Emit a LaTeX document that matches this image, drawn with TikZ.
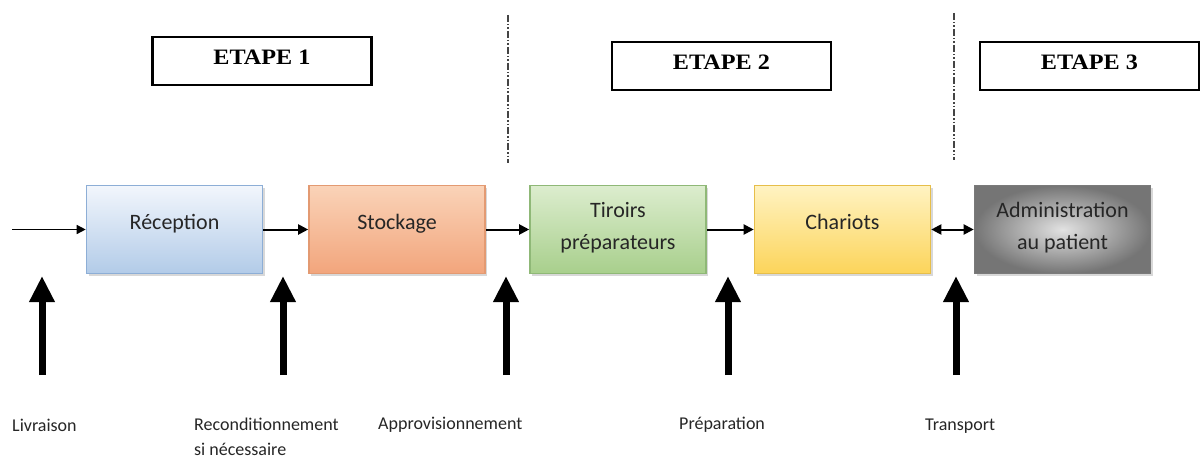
\documentclass[tikz,border=0pt]{standalone}
\usepackage{fontspec}
\setmainfont{Carlito}
\newfontfamily\etapefont[FakeStretch=1.1]{Liberation Serif}
\usetikzlibrary{arrows.meta,shadows}

\definecolor{recTop}{HTML}{F2F6FC}
\definecolor{recBot}{HTML}{B2CBE8}
\definecolor{recLine}{HTML}{8DAED6}
\definecolor{stoTop}{HTML}{FAD3B8}
\definecolor{stoBot}{HTML}{F2A57C}
\definecolor{stoLine}{HTML}{E39A72}
\definecolor{tirTop}{HTML}{DCEDCE}
\definecolor{tirBot}{HTML}{A8CF8C}
\definecolor{tirLine}{HTML}{8FB877}
\definecolor{chaTop}{HTML}{FFF3C2}
\definecolor{chaBot}{HTML}{FCD45A}
\definecolor{chaLine}{HTML}{E6BE4A}
\definecolor{admIn}{HTML}{E2E2E2}
\definecolor{admOut}{HTML}{757575}
\definecolor{admLine}{HTML}{7A7A7A}
\definecolor{divLine}{HTML}{444444}

\begin{document}
\begin{tikzpicture}[x=1pt,y=-1pt,
  procbox/.style={minimum width=176pt, minimum height=88pt, inner sep=0pt,
    line width=1.6pt, align=center, text=black!85,
    font=\fontsize{22}{32}\selectfont,
    drop shadow={shadow xshift=2pt, shadow yshift=-2pt, opacity=0.3}},
  oneline/.style={text height=14pt, text depth=14pt},
  twoline/.style={text height=44pt, text depth=4pt},
  etape/.style={draw, line width=2.5pt, minimum width=219pt, minimum height=48pt,
    inner sep=0pt, text height=17pt, text depth=10pt,
    font=\etapefont\bfseries\fontsize{22}{26}\selectfont},
  flow/.style={line width=2pt, -{Triangle[length=10pt,width=10pt]}},
  inflow/.style={line width=1.4pt, -{Triangle[length=9pt,width=9pt]}},
  bothflow/.style={line width=2pt, {Triangle[length=10pt,width=10pt]}-{Triangle[length=10pt,width=10pt]}},
  bigup/.style={line width=7pt, -{Triangle[length=26pt,width=24pt]}},
  divider/.style={draw=divLine, line width=1.5pt,
    dash pattern=on 7pt off 2pt on 1.5pt off 2pt on 1.5pt off 2pt},
  steplabel/.style={anchor=west, inner sep=0pt, align=left, text=black!85,
    font=\fontsize{18}{25}\selectfont}]

\useasboundingbox (0,0) rectangle (1200,460);
\fill[white] (0,0) rectangle (1200,460);

% stage headers
\node[etape] (e1) at (262,61) {ETAPE 1};
\node[etape] (e2) at (721.5,66) {ETAPE 2};
\node[etape] (e3) at (1089.5,66) {ETAPE 3};

% stage separators
\coordinate (d1a) at (508,15);
\coordinate (d1b) at (508,163);
\coordinate (d2a) at (954,13);
\coordinate (d2b) at (954,160);
\draw[divider] (d1a) -- (d1b);
\draw[divider] (d2a) -- (d2b);

% process boxes
\node[procbox, oneline, draw=recLine, top color=recTop, bottom color=recBot]
  (rec) at (174.5,229.5) {Réception};
\node[procbox, oneline, draw=stoLine, top color=stoTop, bottom color=stoBot]
  (sto) at (397,229.5) {Stockage};
\node[procbox, twoline, draw=tirLine, top color=tirTop, bottom color=tirBot]
  (tir) at (618,229.5) {Tiroirs\\préparateurs};
\node[procbox, oneline, draw=chaLine, top color=chaTop, bottom color=chaBot]
  (cha) at (842.5,229.5) {Chariots};
\node[procbox, twoline, draw=admLine, inner color=admIn, outer color=admOut]
  (adm) at (1062.5,229.5) {Administration\\au patient};

% main flow
\coordinate (in) at (12,229.5);
\draw[inflow] (in) -- (rec.west);
\draw[flow] (rec.east) -- (sto.west);
\draw[flow] (sto.east) -- (tir.west);
\draw[flow] (tir.east) -- (cha.west);
\draw[bothflow] (cha.east) -- (adm.west);

% operations feeding the chain
\foreach \n/\x in {liv/42, rcd/283, app/506, pre/728, tra/956}{
  \coordinate (\n-tail) at (\x,375);
  \coordinate (\n-tip) at (\x,276);
  \draw[bigup] (\n-tail) -- (\n-tip);
}

\node[steplabel] (lliv) at (12,425) {Livraison};
\node[steplabel] (lrcd) at (194,437) {Reconditionnement\\si nécessaire};
\node[steplabel] (lapp) at (378,425) {Approvisionnement};
\node[steplabel] (lpre) at (679,425) {Préparation};
\node[steplabel] (ltra) at (925,426) {Transport};
\end{tikzpicture}
\end{document}
